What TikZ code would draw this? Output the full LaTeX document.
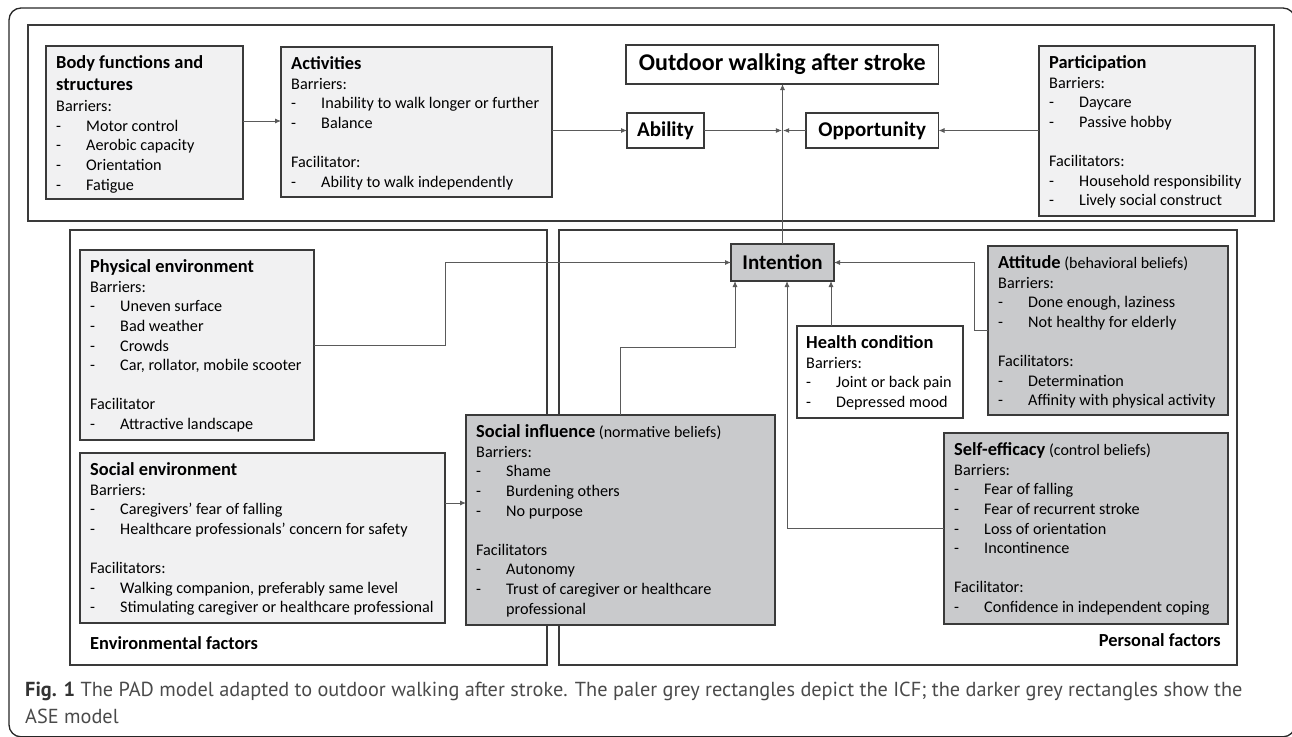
\documentclass[tikz,border=0pt]{standalone}
\usepackage{fontspec}
\setmainfont{Carlito}
\newfontfamily\capfont{PT Sans}
\usetikzlibrary{arrows.meta,calc}
\definecolor{pale}{HTML}{F1F1F2}
\definecolor{dark}{HTML}{C9CACC}
\definecolor{edge}{HTML}{3A3A3A}
\definecolor{conn}{HTML}{5A5A5A}
\definecolor{capgray}{HTML}{4A4A4A}
\newcommand\mkbox[6]{\node[box,fill=#6,minimum width={(#4-(#2))*1pt},minimum height={(#5-(#3))*1pt}] (#1) at ({(#2+#4)/2},{(#3+#5)/2}) {};}
\newcommand\itm[1]{\makebox[30pt][l]{-}#1}
\newcommand\ttl[1]{\rule{0pt}{14pt}{\fontsize{18.4}{22}\selectfont\bfseries #1}}
\newcommand\sub[1]{{\fontsize{16}{19.6}\selectfont #1}}
\tikzset{
  box/.style={draw=edge, line width=1.1pt, inner sep=0pt, outer sep=0pt},
  arr/.style={draw=conn, line width=0.9pt, -{Latex[length=6pt,width=5pt]}},
  txt/.style={anchor=north west, inner sep=0pt, align=left, font=\fontsize{16.2}{19.6}\selectfont},
  big/.style={font=\fontsize{21}{24}\selectfont\bfseries},
  captext/.style={anchor=base west,inner sep=0pt,text=capgray,font=\capfont\fontsize{20.3}{27}\selectfont},
}
\begin{document}
\begin{tikzpicture}[x=1pt,y=-1pt]
\useasboundingbox (0,0) rectangle (1292,736);
\begin{scope}
\clip (0,0) rectangle (1292,736);
\draw[draw=black!85, line width=1.3pt, rounded corners=12pt] (9,8) rectangle (1295,736.8);
\end{scope}
% frames
\node[box,minimum width=1246pt,minimum height=196pt] (topframe) at (651,123) {};
\node[box,minimum width=477pt,minimum height=435pt] (envframe) at (308.5,447.5) {};
\node[box,minimum width=678pt,minimum height=435pt] (persframe) at (898,447.5) {};
% boxes
\mkbox{body}{46}{46}{243}{199}{pale}
\mkbox{act}{281}{47}{552}{197}{pale}
\mkbox{part}{1039}{46}{1255}{216}{pale}
\mkbox{phys}{80}{250}{314}{440}{pale}
\mkbox{senv}{80}{453}{445}{623}{pale}
\mkbox{si}{466}{415}{775}{625}{dark}
\mkbox{health}{797}{326}{963}{418}{white}
\mkbox{att}{988}{246}{1228}{415}{dark}
\mkbox{se}{944}{433}{1228}{624}{dark}
\node[box,fill=white,minimum width=312.5pt,minimum height=39pt,font=\fontsize{24}{28}\selectfont\bfseries] (outdoor) at (782.25,64.5) {Outdoor walking after stroke};
\node[box,fill=white,big,minimum width=77pt,minimum height=35pt] (ab) at (665.5,130.5) {Ability};
\node[box,fill=white,big,minimum width=132.5pt,minimum height=35pt] (opp) at (872.25,130.5) {Opportunity};
\node[box,fill=dark,big,minimum width=103pt,minimum height=37pt] (intent) at (782.5,262.5) {Intention};
% texts
\node[txt] (tbody) at (56,54.5) {\ttl{Body functions and}\\[2.4pt]\ttl{structures}\\[1.4pt]Barriers:\\\itm{Motor control}\\\itm{Aerobic capacity}\\\itm{Orientation}\\\itm{Fatigue}};
\node[txt] (tact) at (291,55.5) {\ttl{Activities}\\Barriers:\\\itm{Inability to walk longer or further}\\\itm{Balance}\\[19.6pt]Facilitator:\\\itm{Ability to walk independently}};
\node[txt] (tpart) at (1049,54.5) {\ttl{Participation}\\Barriers:\\\itm{Daycare}\\\itm{Passive hobby}\\[19.6pt]Facilitators:\\\itm{Household responsibility}\\\itm{Lively social construct}};
\node[txt] (tphys) at (90,258.5) {\ttl{Physical environment}\\Barriers:\\\itm{Uneven surface}\\\itm{Bad weather}\\\itm{Crowds}\\\itm{Car, rollator, mobile scooter}\\[19.6pt]Facilitator\\\itm{Attractive landscape}};
\node[txt] (tsenv) at (90,461.5) {\ttl{Social environment}\\Barriers:\\\itm{Caregivers’ fear of falling}\\\itm{Healthcare professionals’ concern for safety}\\[19.6pt]Facilitators:\\\itm{Walking companion, preferably same level}\\\itm{Stimulating caregiver or healthcare professional}};
\node[txt] (tsi) at (476,423.5) {\ttl{Social influence} \sub{(normative beliefs)}\\Barriers:\\\itm{Shame}\\\itm{Burdening others}\\\itm{No purpose}\\[19.6pt]Facilitators\\\itm{Autonomy}\\\itm{Trust of caregiver or healthcare}\\\makebox[30pt]{}professional};
\node[txt] (thealth) at (806,334.5) {\ttl{Health condition}\\Barriers:\\\itm{Joint or back pain}\\\itm{Depressed mood}};
\node[txt] (tatt) at (998,254.5) {\ttl{Attitude} \sub{(behavioral beliefs)}\\Barriers:\\\itm{Done enough, laziness}\\\itm{Not healthy for elderly}\\[19.6pt]Facilitators:\\\itm{Determination}\\\itm{Affinity with physical activity}};
\node[txt] (tse) at (954,441.5) {\ttl{Self-efficacy} \sub{(control beliefs)}\\Barriers:\\\itm{Fear of falling}\\\itm{Fear of recurrent stroke}\\\itm{Loss of orientation}\\\itm{Incontinence}\\[19.6pt]Facilitator:\\\itm{Confidence in independent coping}};
\node[anchor=base west,inner sep=0pt,font=\fontsize{18.4}{22}\selectfont\bfseries] (envlab) at (90,649) {Environmental factors};
\node[anchor=base east,inner sep=0pt,font=\fontsize{18.4}{22}\selectfont\bfseries] (perslab) at (1221,646) {Personal factors};
% caption
\node[captext] (cap1) at (25,696) {{\bfseries\color{black!80}Fig. 1} The PAD model adapted to outdoor walking after stroke. The paler grey rectangles depict the ICF; the darker grey rectangles show the};
\node[captext] (cap2) at (25,723) {ASE model};
% connectors
\coordinate (jn) at (782.5,130.5);
\draw[arr] (body.east |- 0,121) -- (act.west |- 0,121);
\draw[arr] (act.east |- ab.west) -- (ab.west);
\draw[arr] (ab.east) -- ([xshift=-0.6pt]jn);
\draw[arr] (opp.west) -- ([xshift=0.6pt]jn);
\draw[arr] (part.west |- opp.east) -- (opp.east);
\draw[arr] (intent.north) -- (intent.north |- outdoor.south);
\draw[arr] (phys.east |- 0,345) -- (445,345) -- (445,262.5) -- (intent.west);
\draw[arr] (att.west |- 0,330) -- (974,330) -- (974,262.5) -- (intent.east);
\draw[arr] (si.north -| 620.5,0) -- (620.5,347) -- (735,347) -- (intent.south -| 735,0);
\draw[arr] (health.north -| 831,0) -- (intent.south -| 831,0);
\draw[arr] (se.west |- 0,528) -- (787,528) -- (intent.south -| 787,0);
\draw[arr] (senv.east |- 0,503) -- (si.west |- 0,503);
\end{tikzpicture}
\end{document}
